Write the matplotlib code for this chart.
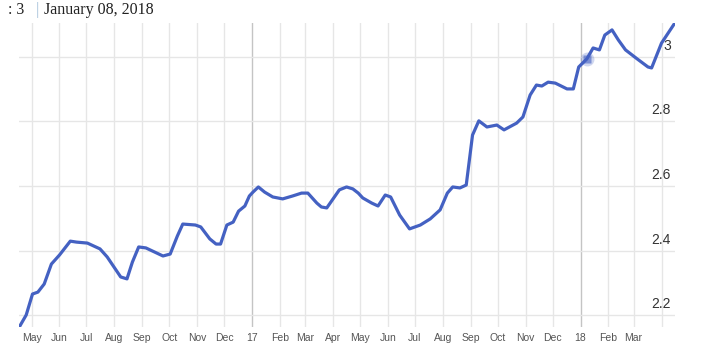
import matplotlib
matplotlib.use("Agg")
import matplotlib.pyplot as plt
import numpy as np

# weekly-ish readings
dates = [
    "2016-04-18", "2016-04-25", "2016-05-02", "2016-05-08", "2016-05-15", "2016-05-23",
    "2016-06-01", "2016-06-13", "2016-06-20", "2016-07-02", "2016-07-16", "2016-07-24",
    "2016-08-08", "2016-08-15", "2016-08-21", "2016-08-28", "2016-09-05", "2016-09-24",
    "2016-10-02", "2016-10-10", "2016-10-16", "2016-10-30", "2016-11-05", "2016-11-15",
    "2016-11-22", "2016-11-27", "2016-12-04", "2016-12-11", "2016-12-17", "2016-12-24",
    "2016-12-29", "2017-01-02", "2017-01-08", "2017-01-15", "2017-01-24", "2017-02-04",
    "2017-02-15", "2017-02-25", "2017-03-04", "2017-03-14", "2017-03-19", "2017-03-25",
    "2017-04-01", "2017-04-08", "2017-04-16", "2017-04-23", "2017-04-29", "2017-05-04",
    "2017-05-14", "2017-05-21", "2017-05-29", "2017-06-04", "2017-06-14", "2017-06-25",
    "2017-07-07", "2017-07-18", "2017-07-29", "2017-08-06", "2017-08-12", "2017-08-20",
    "2017-08-27", "2017-09-03", "2017-09-10", "2017-09-19", "2017-09-30", "2017-10-08",
    "2017-10-22", "2017-10-29", "2017-11-06", "2017-11-13", "2017-11-19", "2017-11-26",
    "2017-12-04", "2017-12-17", "2017-12-24", "2017-12-30", "2018-01-08", "2018-01-15",
    "2018-01-22", "2018-01-28", "2018-02-05", "2018-02-12", "2018-02-20", "2018-03-05",
    "2018-03-17", "2018-03-21", "2018-04-01", "2018-04-15",
]
values = [
    2.166, 2.200, 2.265, 2.271, 2.296, 2.358,
    2.386, 2.429, 2.426, 2.423, 2.405, 2.380,
    2.318, 2.312, 2.364, 2.411, 2.408, 2.383,
    2.389, 2.445, 2.482, 2.479, 2.473, 2.436,
    2.420, 2.420, 2.479, 2.488, 2.522, 2.538,
    2.569, 2.581, 2.597, 2.581, 2.566, 2.560,
    2.569, 2.578, 2.578, 2.547, 2.535, 2.532,
    2.560, 2.588, 2.597, 2.591, 2.578, 2.563,
    2.547, 2.538, 2.572, 2.566, 2.510, 2.467,
    2.479, 2.498, 2.526, 2.578, 2.597, 2.594,
    2.603, 2.758, 2.802, 2.783, 2.789, 2.774,
    2.795, 2.814, 2.882, 2.913, 2.910, 2.922,
    2.919, 2.901, 2.901, 2.969, 2.994, 3.028,
    3.022, 3.068, 3.084, 3.053, 3.022, 2.994,
    2.969, 2.966, 3.043, 3.102,
]

month_starts = [
    "2016-05-01", "2016-06-01", "2016-07-01", "2016-08-01", "2016-09-01", "2016-10-01",
    "2016-11-01", "2016-12-01", "2017-01-01", "2017-02-01", "2017-03-01", "2017-04-01",
    "2017-05-01", "2017-06-01", "2017-07-01", "2017-08-01", "2017-09-01", "2017-10-01",
    "2017-11-01", "2017-12-01", "2018-01-01", "2018-02-01", "2018-03-01", "2018-04-01",
]
month_labels = [
    "May", "Jun", "Jul", "Aug", "Sep", "Oct", "Nov", "Dec", "17", "Feb", "Mar", "Apr",
    "May", "Jun", "Jul", "Aug", "Sep", "Oct", "Nov", "Dec", "18", "Feb", "Mar", "",
]
y_ticks = [2.2, 2.4, 2.6, 2.8, 3.0]

hover_date = "2018-01-08"
hover_value = 2.994

x = np.array(dates, dtype="datetime64[D]")
months = np.array(month_starts, dtype="datetime64[D]")

W, H = 710, 356
fig = plt.figure(figsize=(W / 100, H / 100), dpi=100)
ax = fig.add_axes([19 / W, 1 - 327 / H, (675 - 19) / W, (327 - 23) / H])

for m, lab in zip(months, month_labels):
    col = "#c4c4c4" if lab in ("17", "18") else "#e6e6e6"
    ax.axvline(m, color=col, lw=1, zorder=1)
for v in y_ticks:
    ax.axhline(v, color="#e6e6e6", lw=1, zorder=1)

ax.plot(x, values, color="#4461c2", lw=2.3, solid_joinstyle="round", zorder=3)
hx = np.array([hover_date], dtype="datetime64[D]")
ax.plot(hx, [hover_value], "o", ms=10, color="#4461c2", alpha=0.25, mec="none", zorder=4)
ax.plot(hx, [hover_value], "s", ms=6, color="#4461c2", alpha=0.6, mec="none", zorder=4)

ax.set_xlim(np.datetime64("2016-04-17"), np.datetime64("2018-04-16"))
ax.set_ylim(2.1628, 3.1054)

ax.set_xticks(months)
ax.set_xticklabels(month_labels, fontfamily="Liberation Sans", fontsize=7.5, color="#555555")
ax.tick_params(axis="x", length=0, pad=4)
ax.set_yticks([])
for s in ax.spines.values():
    s.set_visible(False)

for v in y_ticks:
    ax.annotate(f"{v:g}", xy=(1, v), xycoords=("axes fraction", "data"),
                xytext=(-4, 4), textcoords="offset pixels", ha="right", va="bottom",
                fontfamily="Liberation Sans", fontsize=10, color="#333333")

fig.text(8 / W, 1 - 10 / H, ": 3", fontfamily="Liberation Serif", fontsize=11.5,
         color="#222222", va="center", ha="left")
fig.text(36 / W, 1 - 10 / H, "|", fontfamily="Liberation Serif", fontsize=12,
         color="#a9c4dc", va="center", ha="left")
fig.text(44 / W, 1 - 10 / H, "January 08, 2018", fontfamily="Liberation Serif", fontsize=11.5,
         color="#222222", va="center", ha="left")

fig.savefig("out.png", dpi=100)
